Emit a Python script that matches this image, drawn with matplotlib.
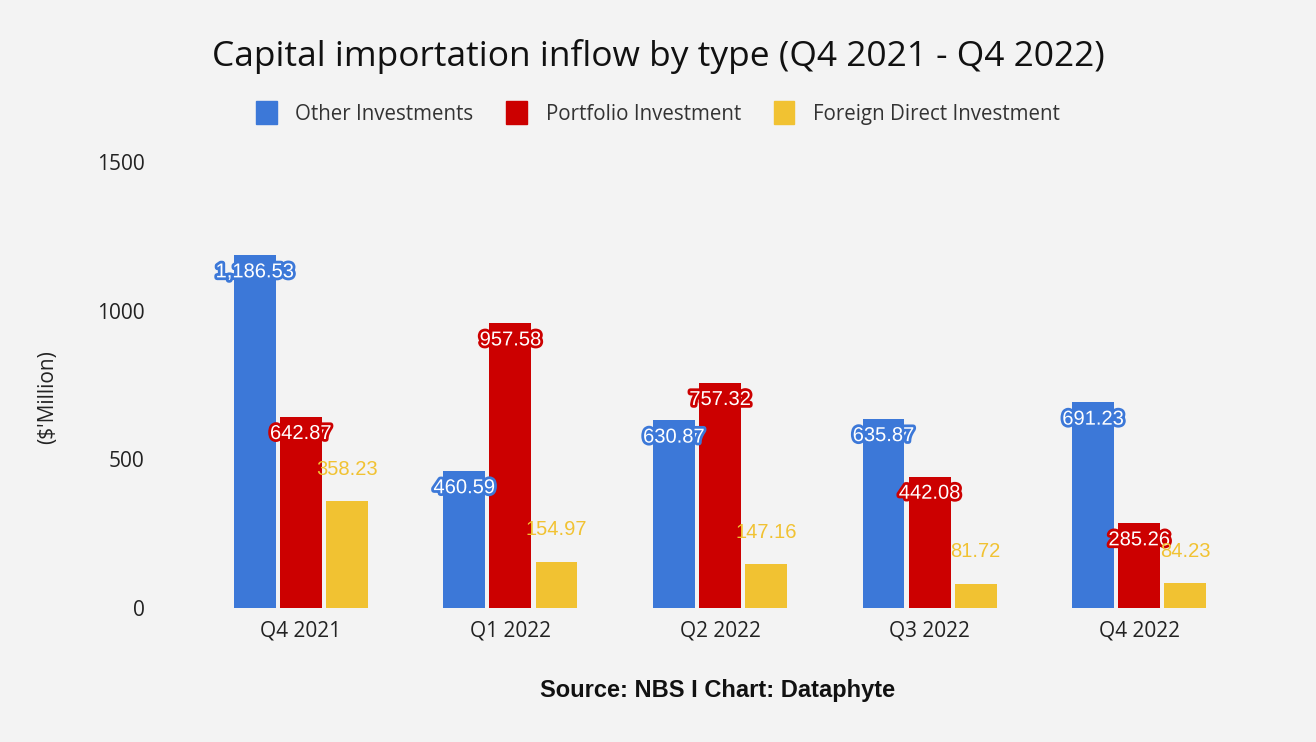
import matplotlib
matplotlib.use("Agg")
import matplotlib.pyplot as plt
import matplotlib.patheffects as pe
from matplotlib.patches import Patch
import numpy as np

categories = ["Q4 2021", "Q1 2022", "Q2 2022", "Q3 2022", "Q4 2022"]
other_inv = [1186.53, 460.59, 630.87, 635.87, 691.23]
portfolio_inv = [642.87, 957.58, 757.32, 442.08, 285.26]
fdi = [358.23, 154.97, 147.16, 81.72, 84.23]
series_names = ["Other Investments", "Portfolio Investment", "Foreign Direct Investment"]
colors = ["#3c78d8", "#cc0000", "#f1c232"]
yticks = [0, 500, 1000, 1500]

bg = "#f3f3f3"
fig = plt.figure(figsize=(13.16, 7.42), dpi=100, facecolor=bg)
W, H = 1316, 742
ax = fig.add_axes([196 / W, 1 - 608 / H, (1244 - 196) / W, (608 - 162) / H], facecolor=bg)

x = np.arange(len(categories))
bw = 0.2
offs = [-0.22, 0, 0.22]
data = [other_inv, portfolio_inv, fdi]
for i, (vals, c) in enumerate(zip(data, colors)):
    ax.bar(x + offs[i], vals, bw, color=c, zorder=2)
    for xi, v in zip(x + offs[i], vals):
        lab = f"{v:,.2f}"
        if i < 2:
            t = ax.annotate(lab, (xi, v), xytext=(0, -12), textcoords="offset points",
                            ha="center", va="center", fontsize=14.5, color="white",
                            family="Liberation Sans", zorder=5)
            t.set_path_effects([pe.Stroke(linewidth=4, foreground=c), pe.Normal()])
        else:
            ax.annotate(lab, (xi, v), xytext=(0, 23), textcoords="offset points",
                        ha="center", va="center", fontsize=14.5, color=c,
                        family="Liberation Sans", zorder=5)

ax.set_xlim(-0.5, len(categories) - 0.5)
ax.set_ylim(0, 1500)
ax.set_yticks(yticks)
ax.set_yticklabels([str(t) for t in yticks])
ax.set_xticks(x)
ax.set_xticklabels(categories)
for s in ax.spines.values():
    s.set_visible(False)
ax.tick_params(axis="both", length=0, labelsize=15, colors="#222222")
ax.tick_params(axis="y", pad=37)
ax.tick_params(axis="x", pad=9)
for lbl in ax.get_xticklabels() + ax.get_yticklabels():
    lbl.set_family("Open Sans")

fig.text(48 / W, 1 - 397 / H, "($'Million)", rotation=90, ha="center", va="center",
         fontsize=15, family="Open Sans", color="#222222")
fig.text(658 / W, 1 - 57 / H, "Capital importation inflow by type (Q4 2021 - Q4 2022)",
         ha="center", va="center", fontsize=25.5, family="Open Sans", color="#111111")
fig.text(718 / W, 1 - 691 / H, "Source: NBS I Chart: Dataphyte", ha="center", va="center",
         fontsize=17, fontweight="bold", family="Liberation Sans", color="#111111")

handles = [Patch(facecolor=c, edgecolor=c) for c in colors]
leg = fig.legend(handles, series_names, loc="center", bbox_to_anchor=(658 / W, 1 - 113 / H),
                 ncol=3, frameon=False, handlelength=1.0, handleheight=1.3,
                 columnspacing=1.6, handletextpad=0.9, prop={"family": "Open Sans", "size": 14.8})
for t in leg.get_texts():
    t.set_color("#333333")

fig.savefig("out.png", dpi=100, facecolor=bg)
